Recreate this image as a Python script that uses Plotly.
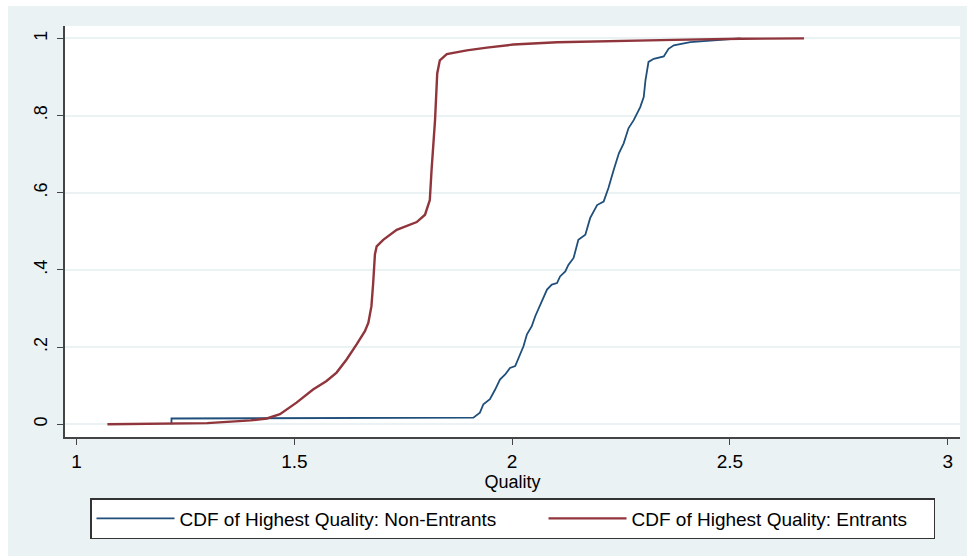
import plotly.graph_objects as go

# Entrants CDF (red)
ent_x = [1.071, 1.20, 1.30, 1.40, 1.437, 1.467, 1.505, 1.543, 1.574, 1.597, 1.620, 1.643, 1.662,
         1.670, 1.677, 1.681, 1.685, 1.689, 1.704, 1.735, 1.781, 1.800, 1.811, 1.815, 1.823,
         1.828, 1.834, 1.850, 1.896, 1.942, 2.003, 2.103, 2.218, 2.371, 2.524, 2.670]
ent_y = [0.000, 0.001, 0.003, 0.010, 0.015, 0.026, 0.056, 0.090, 0.112, 0.134, 0.168, 0.207, 0.241,
         0.263, 0.306, 0.366, 0.440, 0.461, 0.478, 0.504, 0.524, 0.543, 0.581, 0.659, 0.788,
         0.909, 0.943, 0.959, 0.969, 0.976, 0.984, 0.990, 0.993, 0.996, 0.999, 1.000]

# Non-entrants CDF (blue)
non_x = [1.218, 1.218, 1.911, 1.926, 1.934, 1.949, 1.961, 1.972, 1.984, 1.995, 2.007, 2.015, 2.026,
         2.034, 2.045, 2.053, 2.064, 2.080, 2.091, 2.103, 2.110, 2.122, 2.129, 2.141, 2.152,
         2.168, 2.179, 2.195, 2.210, 2.221, 2.233, 2.245, 2.256, 2.267, 2.279, 2.294, 2.302,
         2.306, 2.313, 2.325, 2.348, 2.359, 2.371, 2.409, 2.463, 2.524]
non_y = [0.000, 0.015, 0.017, 0.030, 0.052, 0.065, 0.090, 0.116, 0.129, 0.146, 0.151, 0.172, 0.202,
         0.233, 0.254, 0.280, 0.310, 0.349, 0.362, 0.366, 0.383, 0.396, 0.413, 0.431, 0.478,
         0.491, 0.534, 0.568, 0.577, 0.612, 0.659, 0.702, 0.728, 0.767, 0.788, 0.822, 0.848,
         0.891, 0.939, 0.947, 0.953, 0.973, 0.982, 0.990, 0.995, 1.000]

series_names = ["CDF of Highest Quality: Non-Entrants", "CDF of Highest Quality: Entrants"]

x_ticks = [1, 1.5, 2, 2.5, 3]
x_labels = ["1", "1.5", "2", "2.5", "3"]
y_ticks = [0, 0.2, 0.4, 0.6, 0.8, 1]
y_labels = ["0", ".2", ".4", ".6", ".8", "1"]

BG = "#eaf2f3"
FONT = "Liberation Sans, Arial, Helvetica, sans-serif"
NB = "\u00a0"

fig = go.Figure()
fig.add_trace(go.Scatter(x=non_x, y=non_y, mode="lines",
                         name=series_names[0] + NB * 8,
                         line=dict(color="#1f4f7a", width=1.8)))
fig.add_trace(go.Scatter(x=ent_x, y=ent_y, mode="lines",
                         name=series_names[1] + NB * 4,
                         line=dict(color="#90353b", width=2.4)))

fig.update_layout(
    width=967, height=556,
    margin=dict(l=65, r=7, t=26, b=119),
    paper_bgcolor=BG,
    plot_bgcolor="white",
    font=dict(family=FONT, color="black", size=18),
    showlegend=True,
    legend=dict(
        orientation="h",
        x=(90 - 65) / 895, xanchor="left",
        y=(437 - 498) / 411, yanchor="top",
        bgcolor="white", bordercolor="#333333", borderwidth=1.5,
        font=dict(size=19, family=FONT),
        itemwidth=78,
        traceorder="normal",
    ),
    shapes=[
        dict(type="rect", xref="paper", yref="paper",
             x0=-0.2, x1=1.2, y0=(437 - 6) / 411, y1=1.2,
             fillcolor="white", line=dict(width=0), layer="below"),
        dict(type="rect", xref="paper", yref="paper",
             x0=-0.2, x1=(8 - 65) / 895, y0=-0.5, y1=1.2,
             fillcolor="white", line=dict(width=0), layer="below"),
    ],
)

fig.update_xaxes(
    range=[0.9736, 3.028],
    tickvals=x_ticks, ticktext=x_labels,
    showgrid=False, zeroline=False,
    showline=True, linecolor="#444444", linewidth=1.5,
    ticks="outside", ticklen=6, tickcolor="#444444", tickwidth=1.2,
    tickfont=dict(size=19), ticklabelstandoff=0,
    title=dict(text="Quality", font=dict(size=18), standoff=0),
)
fig.update_yaxes(
    range=[-0.033, 1.032],
    tickvals=y_ticks, ticktext=y_labels,
    tickangle=-90,
    showgrid=True, gridcolor=BG, gridwidth=1.5,
    zeroline=False,
    showline=True, linecolor="#444444", linewidth=1.5,
    ticks="outside", ticklen=6, tickcolor="#444444", tickwidth=1.2,
    tickfont=dict(size=18), ticklabelstandoff=3,
)

fig.write_html("out.html")
